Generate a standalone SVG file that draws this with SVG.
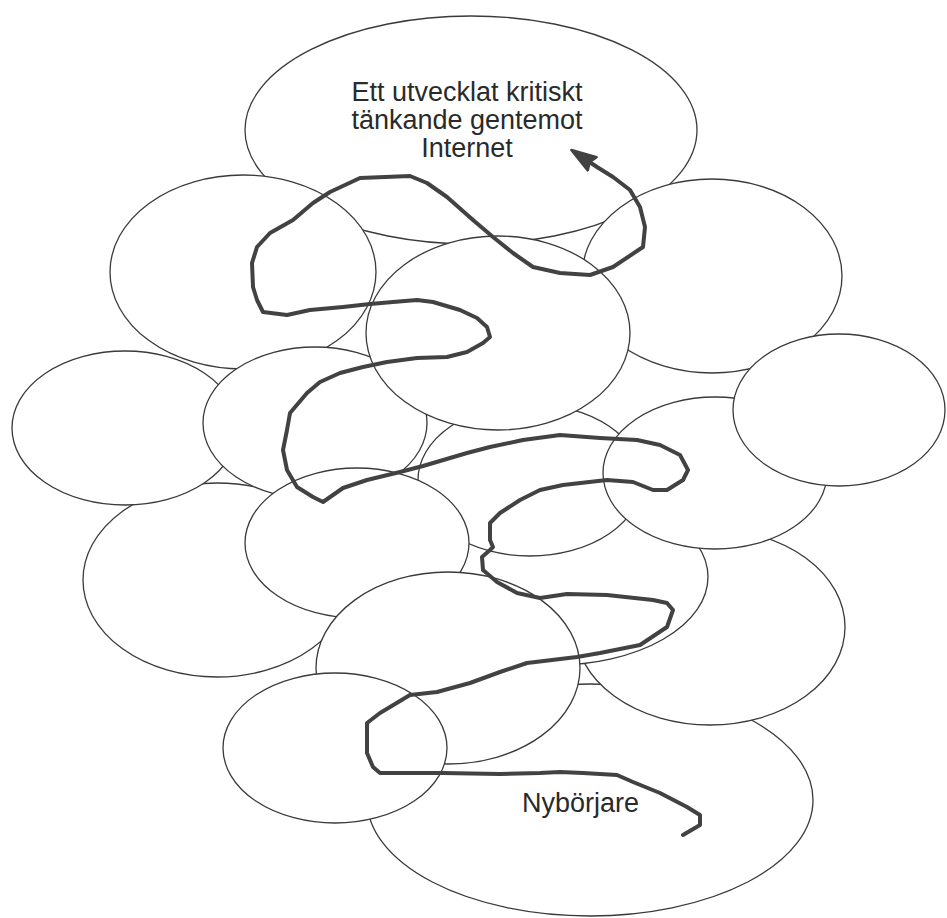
<svg xmlns="http://www.w3.org/2000/svg" width="947" height="918" viewBox="0 0 947 918">
<style>
.e{fill:#ffffff;stroke:#3a3a3a;stroke-width:1.3}
.t{font-family:"Liberation Sans",Arial,Helvetica,sans-serif;font-size:27px;fill:#2a2a2a}
.p{fill:none;stroke:#424242;stroke-width:4;stroke-linejoin:round;stroke-linecap:round}
</style>
<defs>
<marker id="ah" markerWidth="28" markerHeight="22" refX="6" refY="11" orient="auto" markerUnits="userSpaceOnUse">
<path d="M1,3 L26,11 L1,19 L4,11 Z" fill="#424242" stroke="#424242" stroke-width="2.5" stroke-linejoin="round"/>
</marker>
</defs>
<rect width="947" height="918" fill="#ffffff"/>
<g id="n-bottom"><ellipse class="e" cx="590" cy="800" rx="223" ry="116"/><text class="t" x="522" y="812">Nybörjare</text></g>
<g id="n-lowright"><ellipse class="e" cx="710" cy="627" rx="135" ry="98"/></g>
<g id="n-hidden"><ellipse class="e" cx="555" cy="577" rx="153" ry="88"/></g>
<g id="n-top"><ellipse class="e" cx="471" cy="130" rx="226" ry="114"/>
<text class="t" text-anchor="middle"><tspan x="467" y="101">Ett utvecklat kritiskt</tspan><tspan x="467" y="129">tänkande gentemot</tspan><tspan x="467" y="157">Internet</tspan></text></g>
<g id="n-upleft"><ellipse class="e" cx="243" cy="272" rx="133" ry="97"/></g>
<g id="n-upright"><ellipse class="e" cx="712" cy="276" rx="130" ry="97"/></g>
<g id="n-lowleft"><ellipse class="e" cx="217" cy="580" rx="134" ry="97"/></g>
<g id="n-farleft"><ellipse class="e" cx="125" cy="428" rx="113" ry="77"/></g>
<g id="n-centermid"><ellipse class="e" cx="530" cy="480" rx="112" ry="76"/></g>
<g id="n-midleft"><ellipse class="e" cx="315" cy="423" rx="112" ry="76"/></g>
<g id="n-center"><ellipse class="e" cx="498" cy="333" rx="132" ry="97"/></g>
<g id="n-rightmid"><ellipse class="e" cx="715" cy="473" rx="112" ry="76"/></g>
<g id="n-farright"><ellipse class="e" cx="839" cy="410" rx="106" ry="76"/></g>
<g id="n-middle"><ellipse class="e" cx="357" cy="543" rx="112" ry="75"/></g>
<g id="n-lowmid"><ellipse class="e" cx="448" cy="668" rx="132" ry="96"/></g>
<g id="n-smallleft"><ellipse class="e" cx="335" cy="748" rx="112" ry="75"/></g>
<g id="connectors">
<path class="p" marker-end="url(#ah)" d="M683,835 L700,825 L700,815 L687,807 L660,793 L633,782 L617,775 L583,773 L560,772 L540,773 L500,774 L443,773 L380,773 L373,767 L367,753 L367,723 L380,713 L410,695 L437,692 L470,683 L500,672 L527,663 L577,657 L600,653 L640,645 L667,627 L673,610 L667,603 L653,600 L607,595 L567,594 L540,598 L517,593 L497,582 L483,570 L482,557 L490,550 L493,547 L490,540 L490,523 L500,513 L520,500 L540,490 L563,485 L607,480 L633,482 L653,490 L667,490 L683,480 L688,470 L680,455 L660,445 L637,440 L600,438 L560,435 L523,440 L490,447 L467,453 L423,466 L400,472 L367,480 L343,488 L323,502 L313,497 L297,487 L287,470 L283,450 L287,430 L290,413 L307,393 L320,382 L340,373 L363,367 L387,362 L417,358 L447,357 L467,352 L483,343 L490,337 L487,327 L477,318 L460,310 L433,302 L417,300 L393,302 L370,304 L343,307 L310,310 L287,315 L263,312 L257,300 L253,287 L252,263 L257,247 L270,233 L293,220 L313,203 L330,192 L360,178 L410,176 L427,183 L447,197 L473,220 L493,237 L513,253 L533,267 L560,273 L590,275 L613,267 L643,247 L645,227 L640,207 L630,190 L613,177 L597,167 L588,161"/>
</g>
</svg>
